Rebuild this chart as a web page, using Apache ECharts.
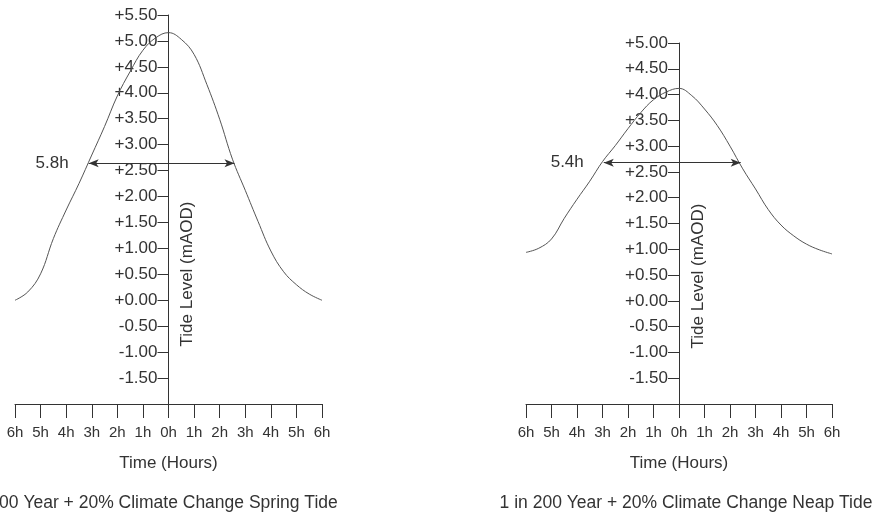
<!DOCTYPE html>
<html>
<head>
<meta charset="utf-8">
<script src="https://cdn.jsdelivr.net/npm/echarts@6/dist/echarts.min.js"></script>
<style>
  html, body { margin: 0; padding: 0; background: #fff; }
  #chart { width: 876px; height: 515px; }
</style>
</head>
<body>
<div id="chart"></div>
<script>
// hours either side of high water
var hours = [-6, -5.5, -5, -4.5, -4, -3.5, -3, -2.5, -2, -1.5, -1, -0.5, 0,
             0.5, 1, 1.5, 2, 2.5, 3, 3.5, 4, 4.5, 5, 5.5, 6];
// tide level (mAOD)
var springTide = [0.00, 0.16, 0.51, 1.19, 1.74, 2.25, 2.80, 3.35, 3.94, 4.41, 4.82, 5.06, 5.16,
                  5.03, 4.74, 4.16, 3.49, 2.72, 2.12, 1.52, 0.95, 0.55, 0.30, 0.12, 0.00];
var neapTide = [0.94, 1.02, 1.20, 1.60, 1.97, 2.32, 2.70, 3.01, 3.34, 3.65, 3.90, 4.05, 4.12,
                3.98, 3.72, 3.40, 3.00, 2.56, 2.17, 1.77, 1.47, 1.26, 1.10, 0.99, 0.91];
// duration arrows: [start hour, end hour, level]
var springArrow = [-3.12, 2.58, 2.64];
var neapArrow = [-2.95, 2.42, 2.68];
var arrowLabels = ["5.8h", "5.4h"];
var yMax = [5.5, 5.0];
var titles = ["1 in 200 Year + 20% Climate Change Spring Tide",
              "1 in 200 Year + 20% Climate Change Neap Tide"];

var txt = "#333";
var font = "Liberation Sans, Arial, sans-serif";
var grids = [
  { left: 15, width: 307, top: 15, height: 389, containLabel: false, outerBoundsMode: "none" },
  { left: 526, width: 306, top: 43, height: 361, containLabel: false, outerBoundsMode: "none" }
];

function xAx(idx) {
  return {
    type: "value", gridIndex: idx, min: -6, max: 6, interval: 1,
    name: "Time (Hours)", nameLocation: "middle", nameGap: 51,
    nameTextStyle: { color: txt, fontSize: 17, fontFamily: font },
    axisLine: { onZero: false, lineStyle: { color: "#333", width: 1 } },
    axisTick: { length: 14, lineStyle: { color: "#333" } },
    axisLabel: {
      color: txt, fontSize: 15, fontFamily: font, margin: 21,
      formatter: function (v) { return Math.abs(v) + "h"; }
    },
    splitLine: { show: false }
  };
}
function yAx(idx) {
  // y axis sits at 0h, i.e. in the middle of the grid
  return {
    type: "value", gridIndex: idx, min: -2, max: yMax[idx], interval: 0.5,
    position: "left", offset: -grids[idx].width / 2,
    axisLine: { onZero: false, lineStyle: { color: "#333", width: 1 } },
    axisTick: { length: 11, lineStyle: { color: "#333" } },
    axisLabel: {
      color: txt, fontSize: 17, fontFamily: font, margin: 11, showMinLabel: false,
      formatter: function (v) { return (v >= 0 ? "+" : "") + v.toFixed(2); }
    },
    splitLine: { show: false }
  };
}
function tideSeries(idx, values, arrow, label) {
  return {
    type: "line", xAxisIndex: idx, yAxisIndex: idx,
    data: hours.map(function (h, i) { return [h, values[i]]; }),
    smooth: 0.4, showSymbol: false, silent: true,
    lineStyle: { color: "#555", width: 1 },
    markLine: {
      silent: true, symbol: ["arrow", "arrow"], symbolSize: [6, 10],
      lineStyle: { color: "#333", width: 1, type: "solid" },
      label: {
        show: true, position: "start", distance: 20, formatter: label,
        color: txt, fontSize: 17, fontFamily: font
      },
      data: [[{ coord: [arrow[0], arrow[2]] }, { coord: [arrow[1], arrow[2]] }]]
    }
  };
}

var myChart = echarts.init(document.getElementById("chart"));
var option = {
  backgroundColor: "#fff",
  animation: false,
  grid: grids,
  xAxis: [xAx(0), xAx(1)],
  yAxis: [yAx(0), yAx(1)],
  series: [
    tideSeries(0, springTide, springArrow, arrowLabels[0]),
    tideSeries(1, neapTide, neapArrow, arrowLabels[1])
  ],
  graphic: [
    { type: "text", x: 187, y: 274, rotation: Math.PI / 2,
      style: { text: "Tide Level (mAOD)", fill: txt, font: "17px " + font, align: "center", verticalAlign: "middle" } },
    { type: "text", x: 698, y: 276, rotation: Math.PI / 2,
      style: { text: "Tide Level (mAOD)", fill: txt, font: "17px " + font, align: "center", verticalAlign: "middle" } },
    { type: "text", x: 147, y: 503,
      style: { text: titles[0], fill: txt, font: "17.5px " + font, align: "center", verticalAlign: "middle" } },
    { type: "text", x: 686, y: 503,
      style: { text: titles[1], fill: txt, font: "17.5px " + font, align: "center", verticalAlign: "middle" } }
  ]
};
myChart.setOption(option);
window.addEventListener("resize", function () {
  myChart.resize();
});
</script>
</body>
</html>
